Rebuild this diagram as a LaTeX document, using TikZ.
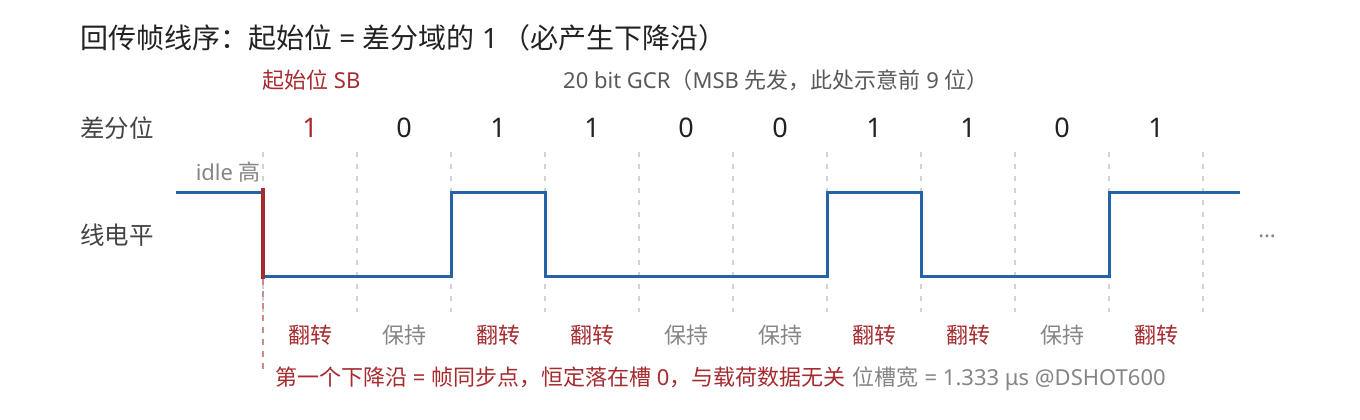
\documentclass[tikz,border=0pt]{standalone}
\usepackage{fontspec}
\setmainfont{Noto Sans CJK SC}
\newfontfamily\latinfont{Noto Sans}
\usetikzlibrary{positioning}
\definecolor{sbred}{HTML}{A62B2E}
\definecolor{wireblue}{HTML}{2563A8}
\definecolor{holdgray}{HTML}{858585}
\definecolor{gridgray}{HTML}{D2D2D2}
\definecolor{inkdark}{HTML}{222222}
\newcommand{\lat}[1]{{\latinfont #1}}

\begin{document}
\begin{tikzpicture}[
    x=1pt, y=-1pt,
    every node/.style={inner sep=0pt, font=\fontsize{22}{26}\selectfont},
    title/.style={anchor=west, text=inkdark, font=\fontsize{28}{32}\selectfont},
    rowlbl/.style={anchor=west, text=inkdark!85, font=\fontsize{24.5}{28}\selectfont},
    bitnum/.style={text=#1, font=\fontsize{27}{30}\latinfont},
    slotlbl/.style={text=#1, font=\fontsize{22}{26}\selectfont},
    gridline/.style={gridgray, line width=1.3pt, dash pattern=on 5pt off 7pt},
    wave/.style={wireblue, line width=3pt, line join=miter},
    syncedge/.style={sbred, line width=4.5pt},
    syncmark/.style={sbred!55, line width=1.3pt, dash pattern=on 6pt off 6pt},
]
\useasboundingbox (0,0) rectangle (1360,420);

% Title
\node[title] (title) at (80,38) {回传帧线序：起始位\lat{ = }差分域的\lat{ 1}\,（必产生下降沿）};

% Header row
\node[anchor=west, text=sbred] (sbhead) at (262,80) {起始位\lat{ SB}};
\node[anchor=west, text=inkdark!75] (gcrhead) at (563,80) {\lat{20 bit GCR}（\lat{MSB }先发，此处示意前\lat{ 9 }位）};

% Row labels
\node[rowlbl] (difflbl) at (80,128) {差分位};
\node[rowlbl] (linelbl) at (80,235) {线电平};

% Slot grid
\foreach \k in {0,...,10} {
    \coordinate (gtop\k) at (263+94*\k,152);
    \coordinate (gbot\k) at (263+94*\k,312);
    \draw[gridline] (gtop\k) -- (gbot\k);
}

% Bits and slot labels
\foreach \b [count=\i] in {1,0,1,1,0,0,1,1,0,1} {
    \ifnum\i=1 \def\bitcol{sbred}\else \def\bitcol{inkdark}\fi
    \node[bitnum=\bitcol] (bit\i) at (216+94*\i,128) {\b};
    \ifnum\b=1
        \node[slotlbl=sbred] (act\i) at (216+94*\i,335) {翻转};
    \else
        \node[slotlbl=holdgray] (act\i) at (216+94*\i,335) {保持};
    \fi
}

% Line level
\node[anchor=east, text=holdgray] (idle) at (261,172) {\lat{idle }高};
\draw[wave] (176,192) -- (263,192) -- (263,276) -- (451,276) -- (451,192)
    -- (545,192) -- (545,276) -- (827,276) -- (827,192) -- (921,192)
    -- (921,276) -- (1109,276) -- (1109,192) -- (1240,192);
\node[text=holdgray, font=\fontsize{22}{26}\latinfont] (more) at (1267,236) {…};

% Sync edge
\coordinate (edgetop) at (263,188);
\coordinate (edgebot) at (263,279);
\coordinate (markbot) at (263,370);
\draw[syncedge] (edgetop) -- (edgebot);
\draw[syncmark] (edgebot) -- (markbot);

% Notes
\node[anchor=west, text=sbred] (syncnote) at (275,377) {第一个下降沿\lat{ = }帧同步点，恒定落在槽\lat{ 0}，与载荷数据无关};
\node[right=7pt of syncnote.base east, anchor=base west, text=holdgray] (slotnote) {位槽宽\lat{ = 1.333 μs @DSHOT600}};

\end{tikzpicture}
\end{document}
